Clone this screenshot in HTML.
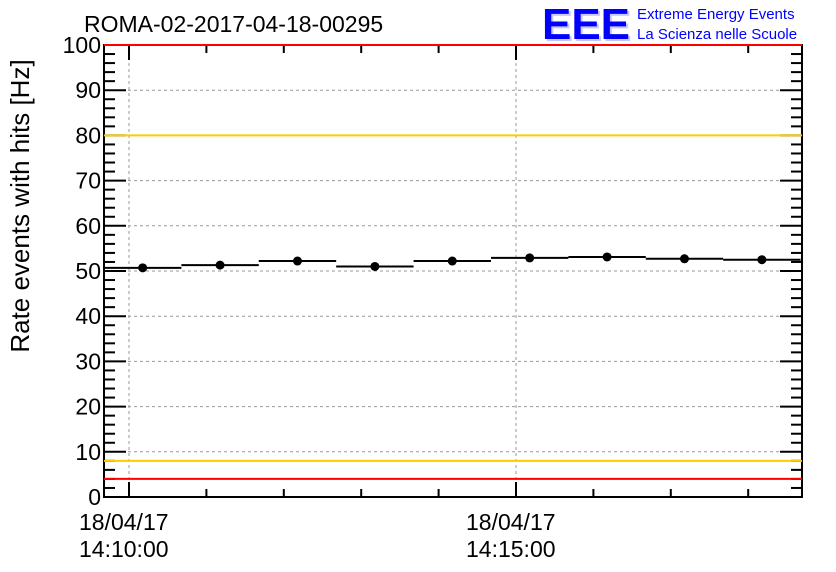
<!DOCTYPE html>
<html><head><meta charset="utf-8"><style>
body{margin:0;background:#fff;}
svg{display:block;font-family:"Liberation Sans",sans-serif;}
</style></head><body>
<svg id="c" width="836" height="572" viewBox="0 0 836 572">
<text x="84" y="32" font-size="23" fill="#000">ROMA-02-2017-04-18-00295</text>
<g>
<text x="544" y="41" font-size="44" font-weight="bold" fill="#c8c8ff" textLength="88" lengthAdjust="spacingAndGlyphs">EEE</text>
<text x="542" y="39" font-size="44" font-weight="bold" fill="#0000ff" textLength="88" lengthAdjust="spacingAndGlyphs">EEE</text>
<text x="637" y="19" font-size="15" fill="#0000ff">Extreme Energy Events</text>
<text x="637" y="39" font-size="15" fill="#0000ff">La Scienza nelle Scuole</text>
</g>
<text transform="translate(29,206) rotate(-90)" text-anchor="middle" font-size="26">Rate events with hits [Hz]</text>
<g id="grid"></g><g id="axes"></g><g id="marks"></g>
</svg>
<script>
const binMinutes=[0,1,2,3,4,5,6,7,8];
const rates=[50.7,51.3,52.2,51.0,52.2,52.9,53.1,52.7,52.5];
const yTicks=[0,10,20,30,40,50,60,70,80,90,100];
const xMajorLabels=[["18/04/17","14:10:00"],["18/04/17","14:15:00"]];
const xMajorMin=[0,5];
const thresholds=[{v:100,c:"#ff0000"},{v:80,c:"#ffcc00"},{v:8,c:"#ffcc00"},{v:4,c:"#ff0000"}];
const L=104,R=802,T=45,B=497;
const x0=129,pxPerMin=77.4,startOffset=-19.4/60;
const X=m=>x0+m*pxPerMin;
const Y=v=>B-(v/100)*(B-T);
const NS="http://www.w3.org/2000/svg";
function mk(tag,attrs,parent){const e=document.createElementNS(NS,tag);for(const k in attrs)e.setAttribute(k,attrs[k]);parent.appendChild(e);return e;}
const grid=document.getElementById('grid'),axes=document.getElementById('axes'),marks=document.getElementById('marks');
yTicks.forEach(v=>{if(v>0&&v<100){const g=mk('line',{x1:L,x2:R,y1:Y(v),y2:Y(v),stroke:'#999','stroke-dasharray':'3,3','stroke-width':1},grid);

}
const t=mk('text',{x:L-3,y:Y(v)+8,'text-anchor':'end','font-size':23},axes);t.textContent=v;

});
xMajorMin.forEach((m,i)=>{const g=mk('line',{x1:X(m),x2:X(m),y1:T,y2:B,stroke:'#999','stroke-dasharray':'3,3','stroke-width':1},grid);


xMajorLabels[i].forEach((s,j)=>{const t=mk('text',{x:X(m)-50,y:530+j*27,'font-size':23},axes);t.textContent=s;

});});
for(let v=0;v<=100;v+=2){const len=v%10===0?22:11;
mk('line',{x1:L,x2:L+len,y1:Y(v),y2:Y(v),stroke:'#000','stroke-width':2},axes);
mk('line',{x1:R,x2:R-len,y1:Y(v),y2:Y(v),stroke:'#000','stroke-width':2},axes);}
for(let m=0;X(m)<R;m++){const len=m%5===0?15:8;
mk('line',{x1:X(m),x2:X(m),y1:B,y2:B-len,stroke:'#000','stroke-width':2},axes);
mk('line',{x1:X(m),x2:X(m),y1:T,y2:T+len,stroke:'#000','stroke-width':2},axes);}
const fr=mk('rect',{x:L,y:T,width:R-L,height:B-T,fill:'none',stroke:'#000','stroke-width':2},axes);


thresholds.forEach(th=>{const l=mk('line',{x1:L,x2:R,y1:Y(th.v),y2:Y(th.v),stroke:th.c,'stroke-width':2},marks);

});
binMinutes.forEach((m,i)=>{const a=Math.max(L,X(startOffset+m)),b=Math.min(R,X(startOffset+m+1)),c=X(startOffset+m+0.5);
const l=mk('line',{x1:a,x2:b,y1:Y(rates[i]),y2:Y(rates[i]),stroke:'#000','stroke-width':2},marks);


const p=mk('circle',{cx:c,cy:Y(rates[i]),r:4.5,fill:'#000'},marks);

});
</script>
</body></html>
